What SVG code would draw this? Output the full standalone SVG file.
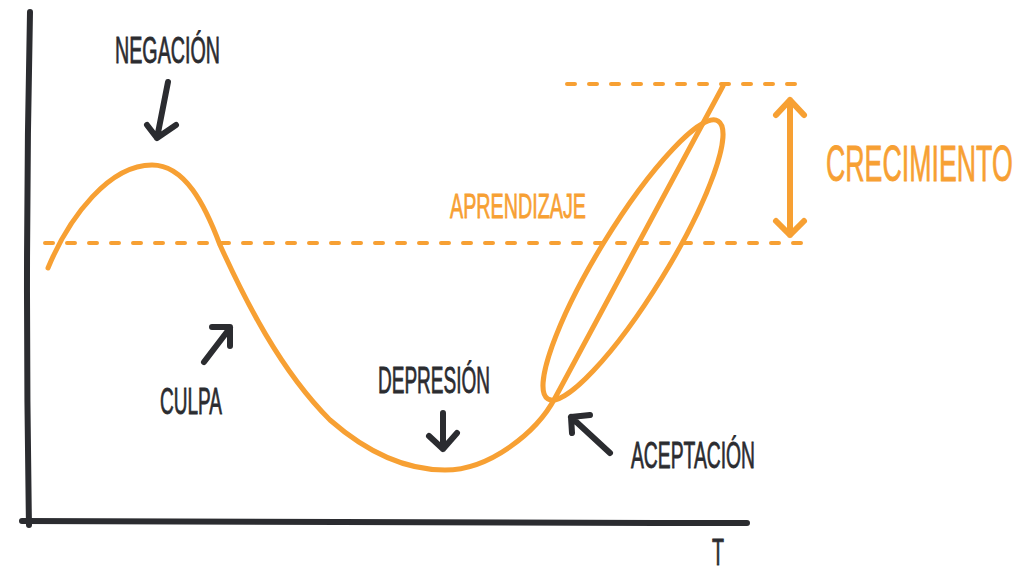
<svg xmlns="http://www.w3.org/2000/svg" width="1031" height="573" viewBox="0 0 1031 573">
<style>
.ax{fill:none;stroke:#2b2c30;stroke-width:6;stroke-linecap:round;stroke-linejoin:round}
.ar{fill:none;stroke:#2b2c30;stroke-width:6;stroke-linecap:round;stroke-linejoin:round}
.or{fill:none;stroke:#f7a033;stroke-width:5;stroke-linecap:round;stroke-linejoin:round}
.dash{fill:none;stroke:#f7a033;stroke-width:4;stroke-linecap:round;stroke-dasharray:8 14}
.t{font-family:"Liberation Sans Narrow","Liberation Sans",Arial,sans-serif;fill:#2b2c30;stroke:#2b2c30;stroke-width:0.8;font-size:36px}
.to{font-family:"Liberation Sans Narrow","Liberation Sans",Arial,sans-serif;fill:#f7a033;stroke:#f7a033;stroke-width:0.8}
</style>
<rect width="1031" height="573" fill="#ffffff"/>
<g id="axes">
<path class="ax" d="M30,12 C27,150 26,350 29,525"/>
<path class="ax" d="M22,521 C250,521 500,523 747,523"/>
</g>
<g id="guides">
<path class="dash" d="M567,84 L805,84"/>
<path class="dash" d="M45,243 L805,243"/>
</g>
<g id="curve">
<path class="or" d="M48,268 C70,215 110,165 152,165 C185,165 205,205 220,245 C245,300 280,370 330,420 C370,455 410,470 445,470 C490,470 537,432 555,398 L723,86"/>
<ellipse class="or" cx="633" cy="260" rx="163" ry="34" transform="rotate(-58.5 633 260)"/>
</g>
<g id="growth-arrow">
<path class="or" d="M790,100 L790,235 M776,115 L790,100 L804,115 M776,221 L790,235 L804,221" style="stroke-width:6"/>
</g>
<g id="connectors">
<path class="ar" d="M168,82 L157,138 M147,125 L157,138 L176,125"/>
<path class="ar" d="M204,362 L230,328 M212,327 L230,327 L230,346"/>
<path class="ar" d="M443,413 L443,449 M429,436 L443,449 L457,433"/>
<path class="ar" d="M610,453 L571,417 M590,415 L571,417 L572,433"/>
</g>
<g id="negacion"><text class="t" x="115" y="63" textLength="105" lengthAdjust="spacingAndGlyphs">NEGACIÓN</text></g>
<g id="culpa"><text class="t" x="160" y="414" textLength="62" lengthAdjust="spacingAndGlyphs">CULPA</text></g>
<g id="depresion"><text class="t" x="378" y="393" textLength="112" lengthAdjust="spacingAndGlyphs">DEPRESIÓN</text></g>
<g id="aceptacion"><text class="t" x="631" y="468" textLength="124" lengthAdjust="spacingAndGlyphs">ACEPTACIÓN</text></g>
<g id="aprendizaje"><text class="to" x="450" y="218" font-size="35" textLength="136" lengthAdjust="spacingAndGlyphs">APRENDIZAJE</text></g>
<g id="crecimiento"><text class="to" transform="translate(826,181) scale(0.535,1)" x="0" y="0" font-size="50">CRECIMIENTO</text></g>
<g id="t-label"><text class="t" x="712" y="565" font-size="33" textLength="12" lengthAdjust="spacingAndGlyphs">T</text></g>
</svg>
